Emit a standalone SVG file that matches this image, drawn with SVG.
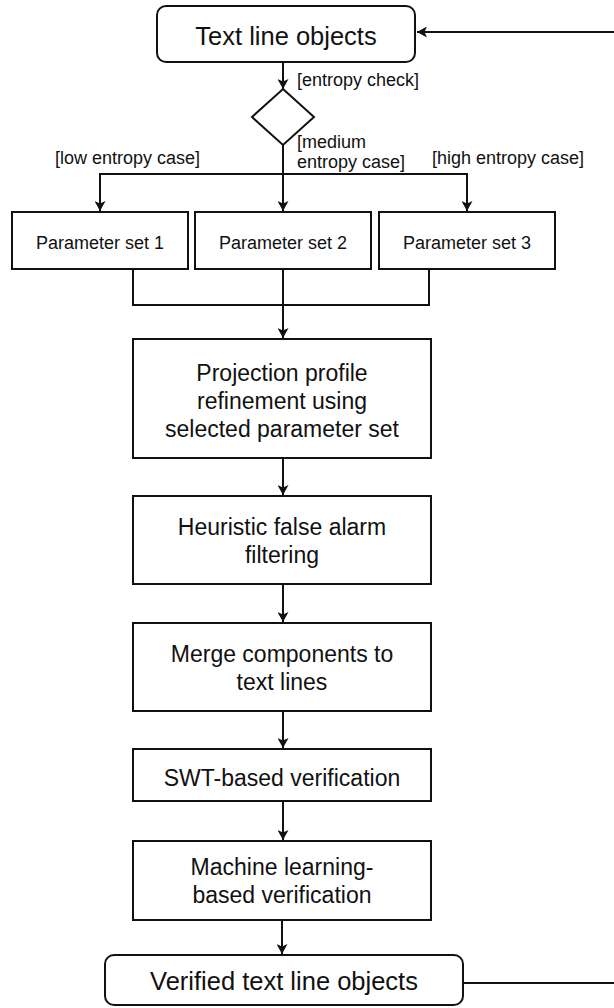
<svg xmlns="http://www.w3.org/2000/svg" width="614" height="1008" viewBox="0 0 614 1008">
<style>
.bx{fill:#fff;stroke:#111;stroke-width:2}
.ln{fill:none;stroke:#111;stroke-width:2}
.t{font-family:"Liberation Sans",Arial,Helvetica,sans-serif;fill:#111;text-anchor:middle}
.big{font-size:25.5px}
.mid{font-size:23px}
.sm{font-size:18px}
.lb{font-family:"Liberation Sans",Arial,Helvetica,sans-serif;fill:#111;font-size:18px}
</style>
<defs>
<marker id="ah" markerUnits="userSpaceOnUse" markerWidth="11" markerHeight="11" refX="10" refY="5.5" orient="auto">
<path d="M0,0 L10,5.5 L0,11 L2.5,5.5 z" fill="#111"/>
</marker>
</defs>
<rect width="614" height="1008" fill="#fff"/>
<g id="connectors">
<path class="ln" d="M614,32 L417,32" marker-end="url(#ah)"/>
<path class="ln" d="M283,62 L283,89" marker-end="url(#ah)"/>
<path class="ln" d="M283,145 L283,211" marker-end="url(#ah)"/>
<path class="ln" d="M100,174 L467,174"/>
<path class="ln" d="M100,173 L100,211" marker-end="url(#ah)"/>
<path class="ln" d="M467,173 L467,211" marker-end="url(#ah)"/>
<path class="ln" d="M133,269 L133,305 L429,305 L429,269"/>
<path class="ln" d="M283,269 L283,338" marker-end="url(#ah)"/>
<path class="ln" d="M283,458 L283,495" marker-end="url(#ah)"/>
<path class="ln" d="M283,584 L283,622" marker-end="url(#ah)"/>
<path class="ln" d="M283,711 L283,748" marker-end="url(#ah)"/>
<path class="ln" d="M283,801 L283,840" marker-end="url(#ah)"/>
<path class="ln" d="M282,920 L282,954" marker-end="url(#ah)"/>
<path class="ln" d="M463,983 L614,983"/>
<text class="lb" x="297" y="86">[entropy check]</text>
<text class="lb" x="297" y="148">[medium</text>
<text class="lb" x="297" y="168">entropy case]</text>
<text class="lb" x="55" y="164">[low entropy case]</text>
<text class="lb" x="432" y="164">[high entropy case]</text>
</g>
<g id="start">
<rect class="bx" x="157" y="6" width="258" height="56" rx="9"/>
<text class="t big" x="286" y="45">Text line objects</text>
</g>
<g id="decision">
<path class="bx" d="M283,89 L314,117 L283,145 L252,117 z"/>
</g>
<g id="param1">
<rect class="bx" x="12" y="212" width="176" height="57"/>
<text class="t sm" x="100" y="249">Parameter set 1</text>
</g>
<g id="param2">
<rect class="bx" x="195" y="212" width="176" height="57"/>
<text class="t sm" x="283" y="249">Parameter set 2</text>
</g>
<g id="param3">
<rect class="bx" x="379" y="212" width="176" height="57"/>
<text class="t sm" x="467" y="249">Parameter set 3</text>
</g>
<g id="projection">
<rect class="bx" x="133" y="339" width="298" height="119"/>
<text class="t mid" x="282" y="381">Projection profile</text>
<text class="t mid" x="282" y="409">refinement using</text>
<text class="t mid" x="282" y="437">selected parameter set</text>
</g>
<g id="heuristic">
<rect class="bx" x="133" y="496" width="298" height="88"/>
<text class="t mid" x="282" y="535">Heuristic false alarm</text>
<text class="t mid" x="282" y="563">filtering</text>
</g>
<g id="merge">
<rect class="bx" x="133" y="623" width="298" height="88"/>
<text class="t mid" x="282" y="662">Merge components to</text>
<text class="t mid" x="282" y="690">text lines</text>
</g>
<g id="swt">
<rect class="bx" x="133" y="749" width="298" height="52"/>
<text class="t mid" x="282" y="786">SWT-based verification</text>
</g>
<g id="ml">
<rect class="bx" x="133" y="841" width="298" height="79"/>
<text class="t mid" x="282" y="875">Machine learning-</text>
<text class="t mid" x="282" y="903">based verification</text>
</g>
<g id="end">
<rect class="bx" x="105" y="955" width="358" height="50" rx="9"/>
<text class="t big" x="284" y="990">Verified text line objects</text>
</g>
</svg>
